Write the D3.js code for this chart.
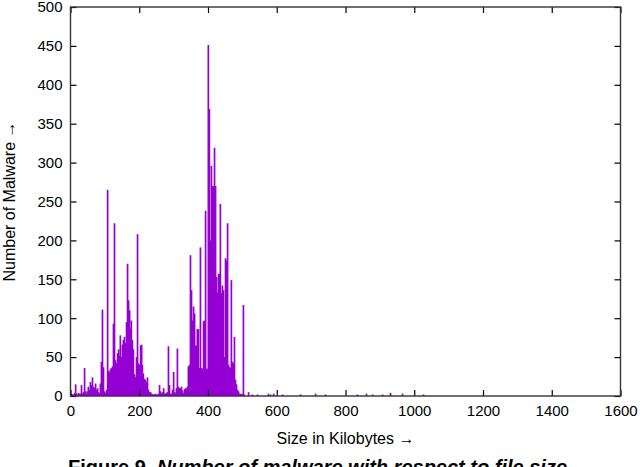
<!DOCTYPE html>
<html>
<head>
<meta charset="utf-8">
<script src="https://cdn.jsdelivr.net/npm/d3@7"></script>
<style>
  body { margin: 0; background: #fff; }
  svg { display: block; font-family: "Liberation Sans", Arial, sans-serif; }
</style>
</head>
<body>
<div id="container"></div>
<script>
/* CONSTANTS */
const width = 640,
  height = 467,
  margin = { top: 7, right: 19.5, bottom: 71, left: 70.5 };

// file size (KB) of each impulse
const sizeKB = [
  3, 6, 9, 12, 15, 17, 20, 23, 26, 29, 32, 35, 38, 41, 44, 47, 49, 52, 55, 58,
  61, 64, 67, 70, 73, 76, 79, 81, 84, 87, 90, 93, 96, 99, 102, 105, 108, 111, 113, 116,
  119, 122, 125, 128, 131, 134, 137, 140, 143, 145, 148, 151, 154, 157, 160, 163, 166, 169, 172, 175,
  177, 180, 183, 186, 189, 192, 195, 198, 201, 204, 207, 209, 212, 215, 218, 221, 224, 227, 230, 233,
  236, 239, 241, 244, 247, 250, 253, 256, 259, 262, 265, 268, 271, 273, 276, 279, 282, 285, 288, 291,
  294, 297, 300, 303, 305, 308, 311, 314, 317, 320, 323, 326, 329, 332, 335, 337, 340, 343, 346, 349,
  352, 355, 358, 361, 364, 367, 369, 372, 375, 378, 381, 384, 387, 390, 393, 396, 399, 401, 404, 407,
  410, 413, 416, 419, 422, 425, 428, 431, 433, 436, 439, 442, 445, 448, 451, 454, 457, 460, 463, 465,
  468, 471, 474, 477, 480, 483, 486, 489, 492, 495, 497, 500, 503, 506,
  518, 529, 544, 576, 582, 591, 617, 669, 713, 742, 835, 861, 879, 908, 931, 966, 1027
];

// number of malware samples at that size
const malwareCount = [
  3, 2, 2, 4, 15, 3, 2, 4, 3, 3, 14, 3, 5, 36, 6, 3, 6, 12, 8, 18,
  14, 24, 12, 10, 16, 8, 10, 5, 4, 16, 44, 111, 37, 6, 4, 8, 265, 32, 30, 34,
  36, 38, 93, 222, 46, 42, 55, 60, 52, 78, 50, 66, 72, 76, 68, 95, 170, 123, 110, 86,
  97, 72, 60, 28, 24, 50, 208, 42, 40, 65, 66, 40, 29, 22, 21, 18, 24, 8, 5, 5,
  3, 2, 2, 2, 3, 2, 2, 3, 14, 6, 3, 5, 10, 3, 3, 4, 5, 64, 14, 3,
  3, 8, 31, 5, 3, 10, 61, 12, 10, 10, 12, 7, 4, 9, 10, 9, 12, 38, 40, 181,
  136, 97, 115, 106, 65, 64, 86, 86, 36, 191, 36, 35, 96, 97, 238, 35, 35, 451, 369, 200,
  296, 270, 270, 319, 270, 153, 133, 157, 157, 247, 132, 142, 136, 50, 177, 174, 222, 40, 37, 36,
  149, 44, 42, 76, 21, 15, 8, 6, 3, 2, 3, 2, 117, 2,
  5, 2, 2, 3, 2, 3, 2, 2, 3, 2, 2, 3, 2, 2, 4, 3, 2
];

const xTicks = [0, 200, 400, 600, 800, 1000, 1200, 1400, 1600];
const yTicks = [0, 50, 100, 150, 200, 250, 300, 350, 400, 450, 500];

const data = sizeKB.map((s, i) => ({ size: s, count: malwareCount[i] }));

/* SCALES */
const xScale = d3.scaleLinear()
  .domain([0, 1600])
  .range([margin.left, width - margin.right]);

const yScale = d3.scaleLinear()
  .domain([0, 500])
  .range([height - margin.bottom, margin.top]);

const svg = d3.select("#container")
  .append("svg")
  .attr("width", width)
  .attr("height", height);

/* IMPULSES */
svg.append("g")
  .selectAll("line")
  .data(data)
  .join("line")
  .attr("x1", d => xScale(d.size))
  .attr("x2", d => xScale(d.size))
  .attr("y1", yScale(0))
  .attr("y2", d => yScale(d.count))
  .attr("stroke", "#9400d3")
  .attr("stroke-width", 1.7);

/* AXES - ticks point inward, mirrored on top and right */
const xAxis = d3.axisBottom(xScale).tickValues(xTicks).tickFormat(d3.format("d"))
  .tickSizeInner(-6).tickSizeOuter(0).tickPadding(9);
const yAxis = d3.axisLeft(yScale).tickValues(yTicks).tickFormat(d3.format("d"))
  .tickSizeInner(-6).tickSizeOuter(0).tickPadding(8);

svg.append("g")
  .attr("transform", `translate(0, ${yScale(0)})`)
  .call(xAxis);

svg.append("g")
  .attr("transform", `translate(${margin.left}, 0)`)
  .call(yAxis);

svg.append("g")
  .attr("transform", `translate(0, ${margin.top})`)
  .call(d3.axisTop(xScale).tickValues(xTicks).tickSizeInner(-6).tickSizeOuter(0).tickFormat(""));

svg.append("g")
  .attr("transform", `translate(${width - margin.right}, 0)`)
  .call(d3.axisRight(yScale).tickValues(yTicks).tickSizeInner(-6).tickSizeOuter(0).tickFormat(""));

svg.selectAll(".domain").remove();
svg.selectAll(".tick line").attr("stroke", "#000").attr("stroke-width", 1.2);
svg.selectAll(".tick text").attr("fill", "#000").style("font-size", "15px").style("font-family", "Liberation Sans, Arial, sans-serif");

// frame
svg.append("rect")
  .attr("x", margin.left)
  .attr("y", margin.top)
  .attr("width", width - margin.right - margin.left)
  .attr("height", yScale(0) - margin.top)
  .attr("fill", "none")
  .attr("stroke", "#333")
  .attr("stroke-width", 1.4);

/* LABELS */
svg.append("text")
  .attr("x", (margin.left + width - margin.right) / 2)
  .attr("y", 444)
  .attr("text-anchor", "middle")
  .style("font-size", "16px")
  .text("Size in Kilobytes \u2192");

svg.append("text")
  .attr("transform", `translate(15, ${(margin.top + yScale(0)) / 2}) rotate(-90)`)
  .attr("text-anchor", "middle")
  .style("font-size", "16px")
  .text("Number of Malware \u2192");

// caption, cut off by the bottom edge like in the source
const caption = svg.append("text")
  .attr("x", 68)
  .attr("y", 474)
  .style("font-size", "20px")
  .style("font-weight", "bold");
caption.append("tspan").text("Figure 9. ");
caption.append("tspan").style("font-style", "italic").text("Number of malware with respect to file size");
</script>
</body>
</html>
